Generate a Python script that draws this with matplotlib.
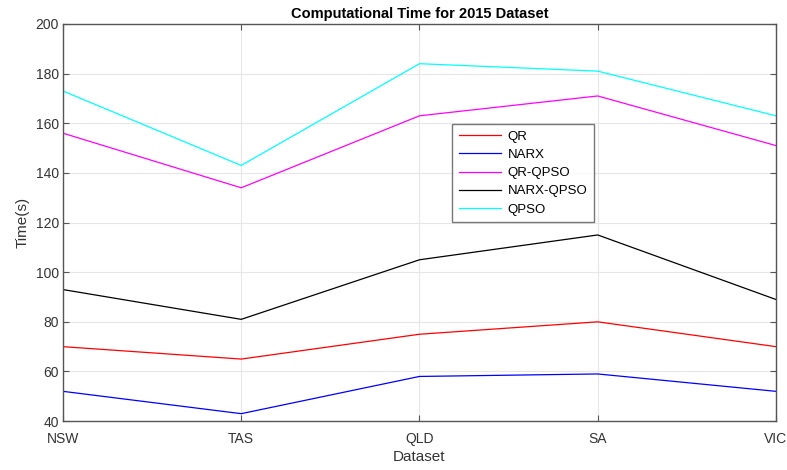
import matplotlib
matplotlib.use("Agg")
import matplotlib.pyplot as plt

plt.rcParams['font.family'] = ['Liberation Sans', 'DejaVu Sans']

datasets = ["NSW", "TAS", "QLD", "SA", "VIC"]
qr = [70, 65, 75, 80, 70]
narx = [52, 43, 58, 59, 52]
qr_qpso = [156, 134, 163, 171, 151]
narx_qpso = [93, 81, 105, 115, 89]
qpso = [173, 143, 184, 181, 163]
y_ticks = [40, 60, 80, 100, 120, 140, 160, 180, 200]

series = [
    ("QR", qr, "#ff0000"),
    ("NARX", narx, "#0000ff"),
    ("QR-QPSO", qr_qpso, "#ff00ff"),
    ("NARX-QPSO", narx_qpso, "#000000"),
    ("QPSO", qpso, "#00ffff"),
]

fig = plt.figure(figsize=(7.87, 4.70), dpi=100)
ax = fig.add_axes([0.080, 0.104, 0.906, 0.845])

x = list(range(len(datasets)))
for name, vals, col in series:
    ax.plot(x, vals, color=col, lw=0.9, label=name)

axis_col = "#555555"
ax.set_xlim(0, len(datasets) - 1)
ax.set_ylim(40, 200)
ax.set_xticks(x)
ax.set_xticklabels(datasets)
ax.set_yticks(y_ticks)
ax.grid(True, color="#e6e6e6", lw=0.8)
ax.set_axisbelow(True)
for sp in ax.spines.values():
    sp.set_color(axis_col)
    sp.set_linewidth(1.0)
ax.tick_params(direction="in", top=True, right=True, colors=axis_col,
               labelcolor="#333333", labelsize=10, length=4, pad=3)
ax.tick_params(axis="x", pad=8)

ax.set_title("Computational Time for 2015 Dataset", fontsize=10.5,
             fontweight="bold", pad=4)
ax.set_xlabel("Dataset", fontsize=11, color="#333333", labelpad=3)
ax.set_ylabel("Time(s)", fontsize=11, color="#333333", labelpad=4)

leg = ax.legend(loc="upper left", bbox_to_anchor=(0.546, 0.748), fontsize=9.5,
                frameon=True, fancybox=False, edgecolor="#555555",
                handlelength=3.2, handletextpad=0.5, labelspacing=0.45,
                borderpad=0.5, borderaxespad=0)
leg.get_frame().set_linewidth(1.0)

fig.savefig("out.png", dpi=100)
